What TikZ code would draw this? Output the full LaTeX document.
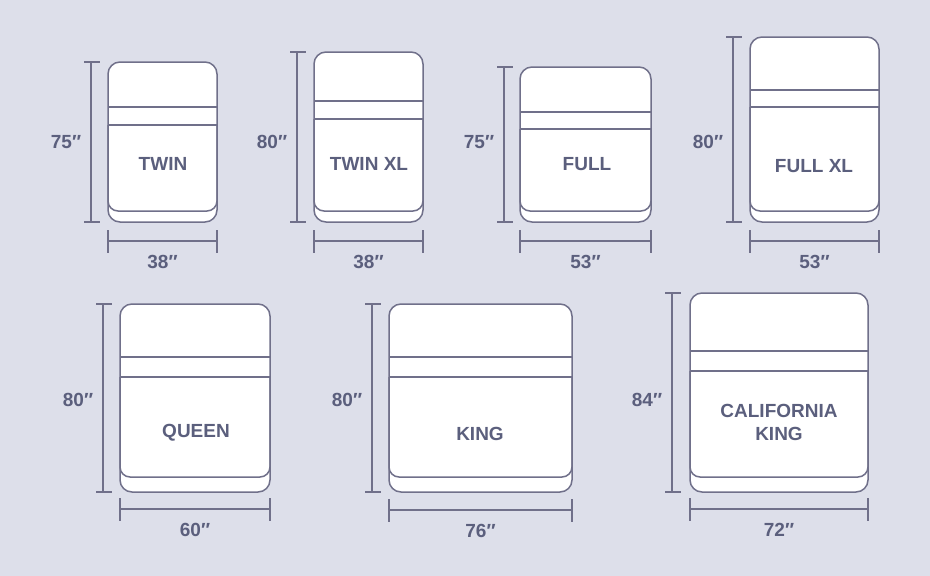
\documentclass[tikz,border=0pt]{standalone}
\usepackage{fontspec}
\setmainfont{Liberation Sans}
\definecolor{bg}{RGB}{221,223,234}
\definecolor{ln}{RGB}{112,112,138}
\definecolor{tx}{RGB}{91,95,125}
\tikzset{
  bedbox/.style={draw=ln, line width=1.5pt, fill=white, rounded corners=12pt, inner sep=0pt, outer sep=0pt, anchor=north west},
  bedline/.style={draw=ln, line width=1.5pt},
  dimline/.style={draw=ln, line width=1.5pt},
  lab/.style={text=tx, font=\bfseries\fontsize{19}{22}\selectfont, inner sep=0pt, align=center}
}
\begin{document}
\begin{tikzpicture}[x=1pt,y=-1pt]
\fill[bg] (0,0) rectangle (930,576);
\useasboundingbox (0,0) rectangle (930,576);
\foreach \n/\xa/\ya/\xb/\yb/\la/\lb/\ib/\dx/\dy/\vl/\vy/\hl in {
  twin/108/62/217/222/107/125/211/91/241/75/142/38,
  twinxl/314/52/423/222/101/119/211/297/241/80/142/38,
  full/520/67/651/222/112/129/211/504/241/75/142/53,
  fullxl/750/37/879/222/90/107/211/733/241/80/142/53,
  queen/120/304/270/492/357/377/477/103/509/80/400/60,
  king/389/304/572/492/357/377/477/372/510/80/400/76,
  calking/690/293/868/492/351/371/477/672/509/84/400/72}{
  \node[bedbox, minimum width={(\xb-\xa)*1pt}, minimum height={(\yb-\ya)*1pt}] (\n) at (\xa,\ya) {};
  \draw[bedline] (\n.west |- 0,\la) -- (\n.east |- 0,\la);
  \draw[bedline, rounded corners=10pt] (\n.west |- 0,\lb) -- (\n.west |- 0,\ib) -- (\n.east |- 0,\ib) -- (\n.east |- 0,\lb);
  \draw[bedline] (\n.west |- 0,\lb) -- (\n.east |- 0,\lb);
  % vertical dimension
  \coordinate (\n-vt) at (\dx,\ya);
  \coordinate (\n-vb) at (\dx,\yb);
  \draw[dimline] (\n-vt) -- (\n-vb);
  \draw[dimline] ([xshift=-7pt]\n-vt) -- ([xshift=9pt]\n-vt);
  \draw[dimline] ([xshift=-7pt]\n-vb) -- ([xshift=9pt]\n-vb);
  \node[lab] (\n-vl) at (\dx-25,\vy) {\vl″};
  % horizontal dimension
  \coordinate (\n-hl) at (\xa,\dy);
  \coordinate (\n-hr) at (\xb,\dy);
  \draw[dimline] (\n-hl) -- (\n-hr);
  \draw[dimline] ([yshift=11pt]\n-hl) -- ([yshift=-12pt]\n-hl);
  \draw[dimline] ([yshift=11pt]\n-hr) -- ([yshift=-12pt]\n-hr);
  \node[lab] (\n-hlab) at ({(\xa+\xb)/2},\dy+21) {\hl″};
}
\node[lab] (twin-name) at (163,164) {TWIN};
\node[lab] (twinxl-name) at (369,164) {TWIN XL};
\node[lab] (full-name) at (587,164) {FULL};
\node[lab] (fullxl-name) at (814,166) {FULL XL};
\node[lab] (queen-name) at (196,433) {QUEEN};
\node[lab] (king-name) at (480,434) {KING};
\node[lab] (calking-name) at (779,422) {CALIFORNIA\\[1pt]KING};
\end{tikzpicture}
\end{document}
